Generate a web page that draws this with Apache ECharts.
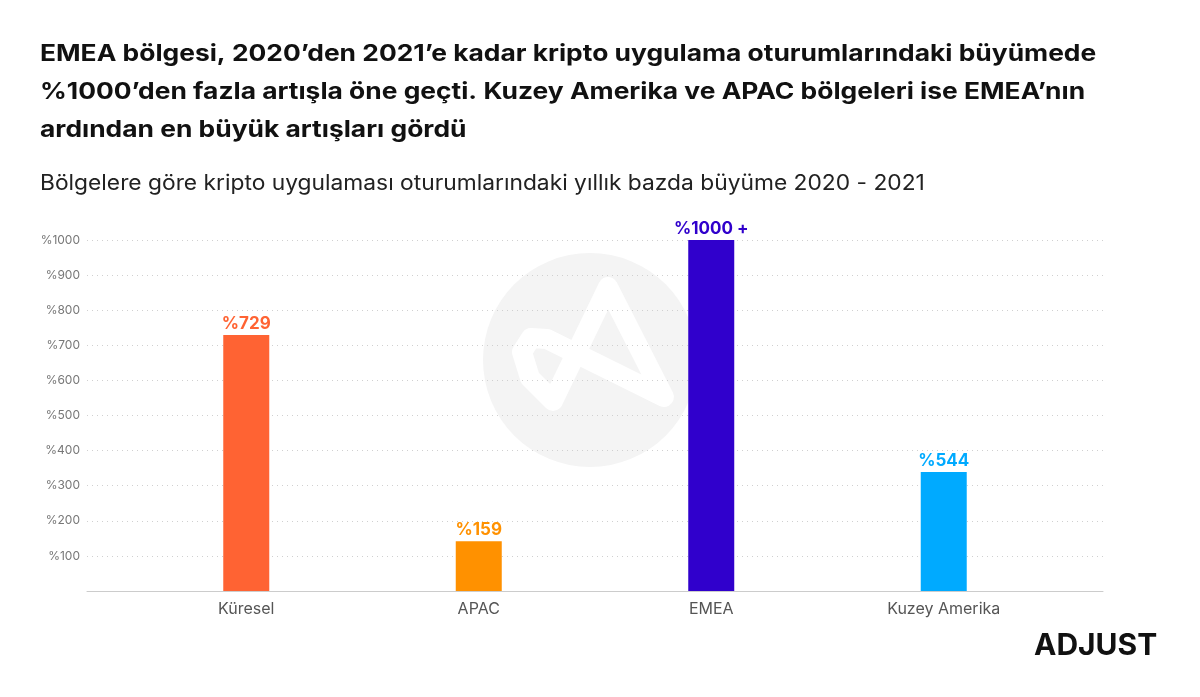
<!DOCTYPE html>
<html><head><meta charset="utf-8">
<script src="https://cdn.jsdelivr.net/npm/echarts@6/dist/echarts.min.js"></script>
<style>html,body{margin:0;padding:0;background:#fff}#c{width:1200px;height:697px}</style>
</head><body><div id="c"></div>
<script>
const categories = ['Küresel', 'APAC', 'EMEA', 'Kuzey Amerika'];
const barValues = [729, 142, 1000, 339];
const barLabels = ['%729', '%159', '%1000 +', '%544'];
const barColors = ['#FF6333', '#FF9100', '#3000CC', '#00AAFF'];
const yTicks = [0, 100, 200, 300, 400, 500, 600, 700, 800, 900, 1000];
const titleLines = [
  'EMEA bölgesi, 2020’den 2021’e kadar kripto uygulama oturumlarındaki büyümede',
  '%1000’den fazla artışla öne geçti. Kuzey Amerika ve APAC bölgeleri ise EMEA’nın',
  'ardından en büyük artışları gördü'
];
const subtitle = 'Bölgelere göre kripto uygulaması oturumlarındaki yıllık bazda büyüme 2020 - 2021';

const FONT = 'Inter, "Noto Sans", sans-serif';
const chart = echarts.init(document.getElementById('c'), null, {renderer: 'canvas'});

const graphics = [
  {type: 'circle', shape: {cx: 590, cy: 360, r: 107}, style: {fill: '#f4f4f4'}, z: -10, silent: true},
  {type: 'polyline', shape: {points: [[608,287],[664,397],[547,339],[531,338],[522,352],[530,378],[553,401],[608,287]]}},
];
graphics[1].style = {fill: null, stroke: '#fff', lineWidth: 20, lineJoin: 'round', lineCap: 'round'};
graphics[1].z = -9; graphics[1].silent = true;
const titleCenters = [54.5, 92.5, 130.5];
titleLines.forEach((t, i) => {
  graphics.push({type: 'text', x: 40, y: titleCenters[i], scaleX: 1.147,
    style: {text: t, font: 'bold 23px ' + FONT, fill: '#111', textVerticalAlign: 'middle', verticalAlign: 'middle'}});
});
graphics.push({type: 'text', x: 40, y: 184, scaleX: 1.085,
  style: {text: subtitle, font: '21px ' + FONT, fill: '#222', textVerticalAlign: 'middle', verticalAlign: 'middle'}});
graphics.push({type: 'text', left: 1034, top: 631, style: {text: 'ADJUST', font: 'bold 30px ' + FONT, fill: '#111'}});

chart.setOption({
  animation: false,
  backgroundColor: '#fff',
  textStyle: {fontFamily: FONT},
  graphic: graphics,
  grid: {left: 87, right: 97, top: 240, bottom: 106, containLabel: false},
  xAxis: {
    type: 'value', min: -0.685, max: 3.685,
    axisLine: {show: true, lineStyle: {color: '#cccccc', width: 1}},
    axisTick: {show: false},
    splitLine: {show: false},
    axisLabel: {customValues: [0, 1, 2, 3], formatter: v => categories[Math.round(v)] || '',
      color: '#555', fontSize: 16, margin: 10, fontFamily: FONT}
  },
  yAxis: {
    type: 'value', min: 0, max: 1000, interval: 100,
    axisLine: {show: false}, axisTick: {show: false},
    splitLine: {show: true, lineStyle: {color: '#d0d0d0', type: [1, 4], width: 1}},
    axisLabel: {formatter: v => v === 0 ? '' : '%' + v, color: '#777', fontSize: 12, margin: 7, fontFamily: FONT}
  },
  series: [{
    type: 'bar', barWidth: 46,
    data: barValues.map((v, i) => ({
      value: [i, v],
      itemStyle: {color: barColors[i]},
      label: {show: true, position: 'top', distance: 3, formatter: barLabels[i],
        color: barColors[i], fontWeight: 'bold', fontSize: 17, fontFamily: FONT}
    }))
  }]
});
</script></body></html>
